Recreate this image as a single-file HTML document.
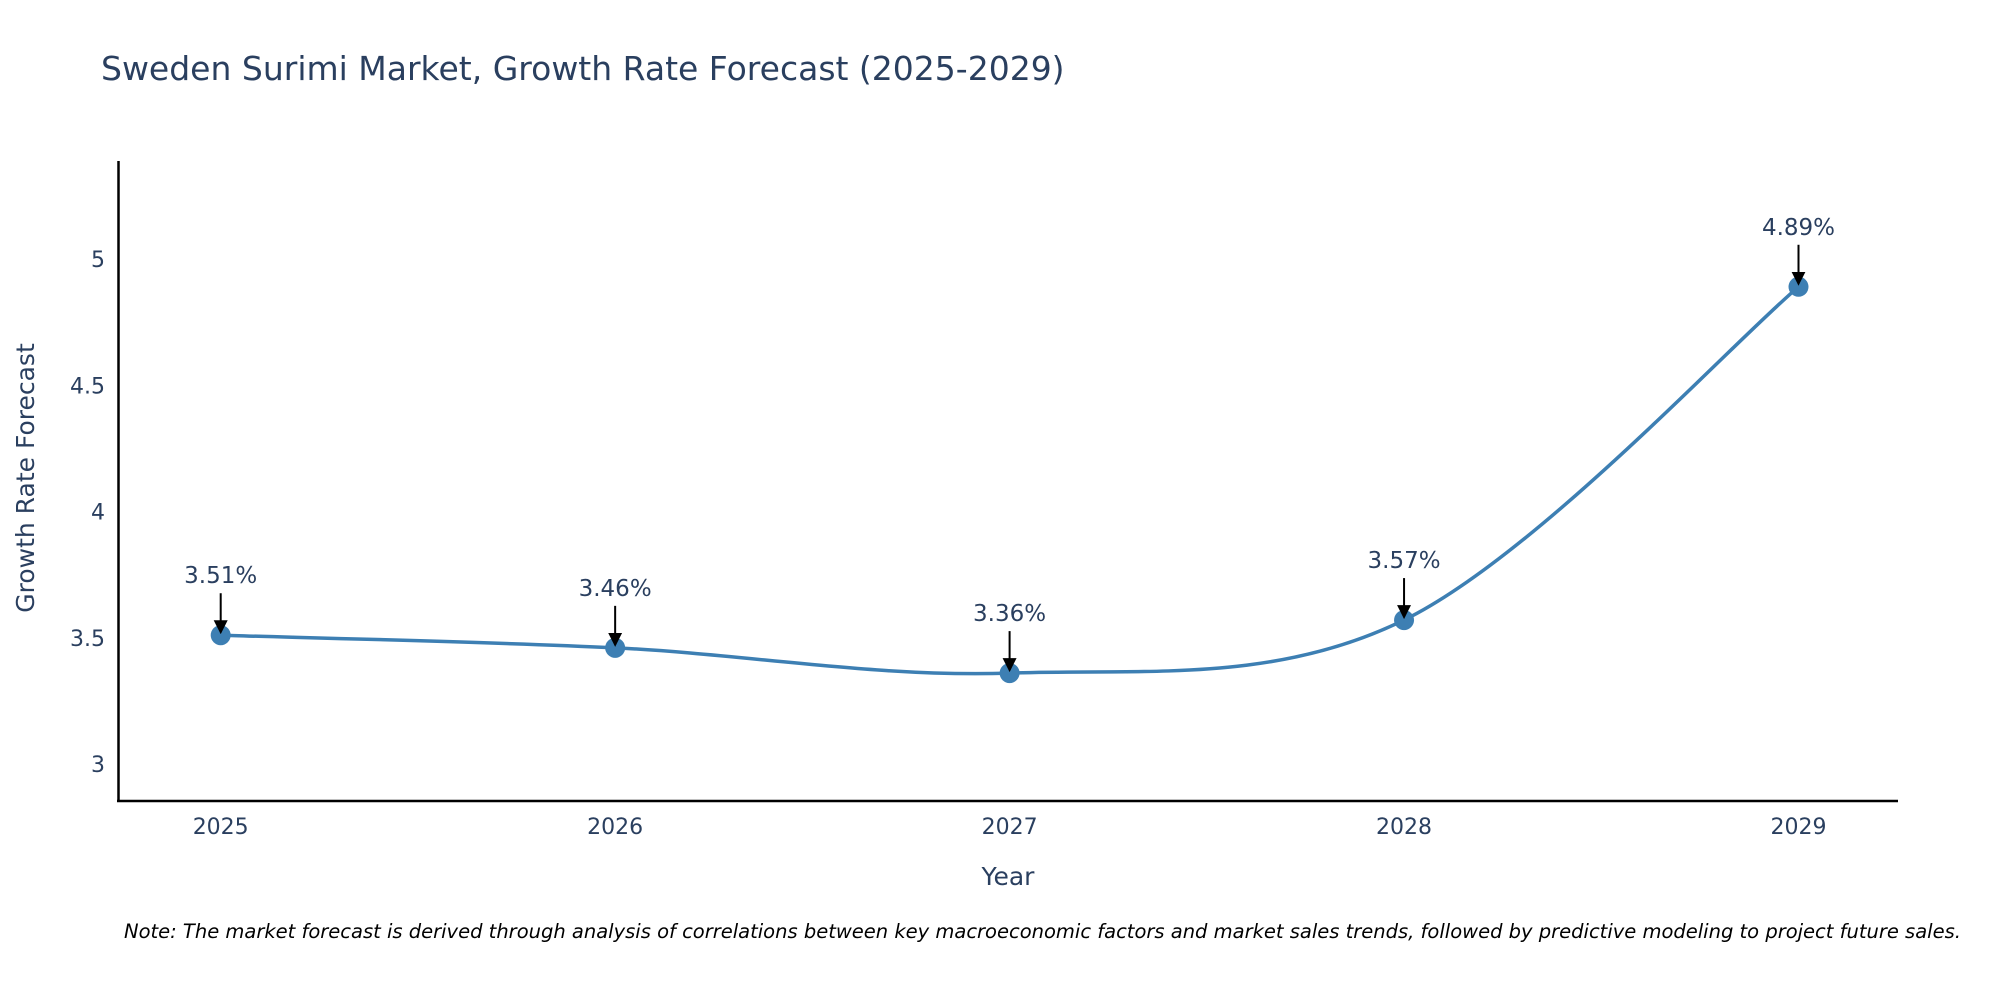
<!DOCTYPE html>
<html><head><meta charset="utf-8"><style>
body{margin:0;background:#fff;}
svg text{font-family:"DejaVu Sans","Liberation Sans",sans-serif;}
</style></head><body>
<svg id="chart" width="2000" height="1000" xmlns="http://www.w3.org/2000/svg">
<rect width="2000" height="1000" fill="#fff"/>
<text x="101" y="80" font-size="33" fill="#2a3f5f">Sweden Surimi Market, Growth Rate Forecast (2025-2029)</text>
<g id="yticks"></g><g id="xticks"></g>
<line x1="118.5" y1="161" x2="118.5" y2="802" stroke="#000" stroke-width="2.5"/>
<line x1="117" y1="801" x2="1898" y2="801" stroke="#000" stroke-width="2.5"/>
<path id="line" fill="none" stroke="#3d7fb3" stroke-width="3.5"/>
<g id="marks"></g>
<text x="1008" y="885" font-size="25" fill="#2a3f5f" text-anchor="middle">Year</text>
<text x="0" y="0" font-size="25" fill="#2a3f5f" text-anchor="middle" transform="translate(34,478) rotate(-90)">Growth Rate Forecast</text>
<text x="124" y="938" font-size="19.5" font-style="italic" fill="#000">Note: The market forecast is derived through analysis of correlations between key macroeconomic factors and market sales trends, followed by predictive modeling to project future sales.</text>
<defs><marker id="ah" markerWidth="14" markerHeight="14" refX="12" refY="7" orient="auto" markerUnits="userSpaceOnUse" viewBox="0 0 14 14"><path d="M0,0 L14,7 L0,14 z" fill="#000"/></marker></defs>
</svg>
<script>
const years=[2025,2026,2027,2028,2029];
const values=[3.51,3.46,3.36,3.57,4.89];
const labels=["3.51%","3.46%","3.36%","3.57%","4.89%"];
const yTickVals=[3,3.5,4,4.5,5];
const yTickLabels=["3","3.5","4","4.5","5"];
const NS="http://www.w3.org/2000/svg";
function xs(v){return 220.7+(v-2025)*394.45;}
function ys(v){return 764-(v-3)*252.5;}
function mk(t,a,p){const e=document.createElementNS(NS,t);for(const k in a)e.setAttribute(k,a[k]);(p||document.getElementById('chart')).appendChild(e);return e;}
const yt=document.getElementById('yticks');
yTickVals.forEach((v,i)=>{const t=mk('text',{x:105,y:ys(v)+8,'font-size':22,fill:'#2a3f5f','text-anchor':'end'},yt);


t.textContent=yTickLabels[i];});
const xt=document.getElementById('xticks');
years.forEach(y=>{const t=mk('text',{x:xs(y),y:834,'font-size':22,fill:'#2a3f5f','text-anchor':'middle'},xt);


t.textContent=String(y);});
const P=years.map((y,i)=>[xs(y),ys(values[i])]);
let d='M'+P[0][0]+','+P[0][1];const s=0.5/3*2;
for(let i=0;i<P.length-1;i++){const p0=P[Math.max(0,i-1)],p1=P[i],p2=P[i+1],p3=P[Math.min(P.length-1,i+2)];
const c1=[p1[0]+(p2[0]-p0[0])*s/2,p1[1]+(p2[1]-p0[1])*s/2],c2=[p2[0]-(p3[0]-p1[0])*s/2,p2[1]-(p3[1]-p1[1])*s/2];
d+=' C'+c1+' '+c2+' '+p2;}
document.getElementById('line').setAttribute('d',d);
const mg=document.getElementById('marks');
P.forEach((p,i)=>{const c=mk('circle',{cx:p[0],cy:p[1],r:10,fill:'#3d7fb3'},mg);


const l=mk('line',{x1:p[0],y1:p[1]-42,x2:p[0],y2:p[1]-3,stroke:'#000','stroke-width':2,'marker-end':'url(#ah)'},mg);


const t=mk('text',{x:p[0],y:p[1]-52,'font-size':23,fill:'#2a3f5f','text-anchor':'middle'},mg);


t.textContent=labels[i];});
</script>
</body></html>
